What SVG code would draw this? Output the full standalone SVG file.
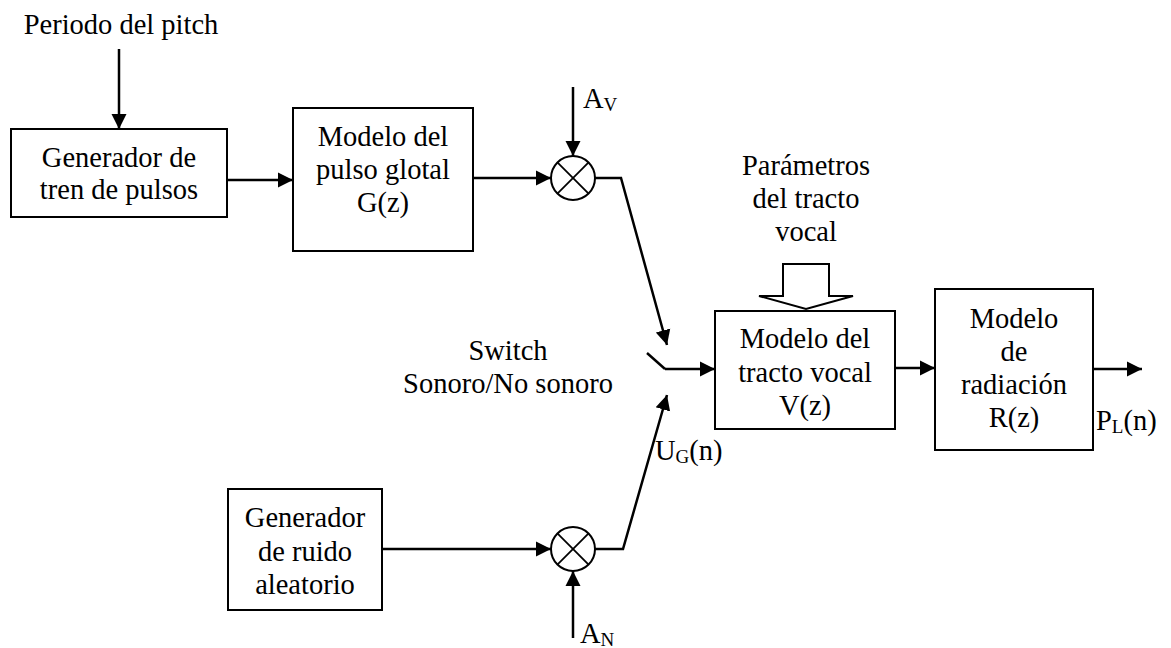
<svg xmlns="http://www.w3.org/2000/svg" width="1171" height="648" viewBox="0 0 1171 648">
<defs>
<marker id="arr" markerUnits="userSpaceOnUse" markerWidth="16" markerHeight="16" refX="15" refY="8" orient="auto">
<path d="M0,0.5 L15,8 L0,15.5 z" fill="#000"/>
</marker>
<style>
text{font-family:"Liberation Serif","Times New Roman",serif;font-size:28.5px;fill:#000;text-anchor:middle}
.l{text-anchor:start}
.sub{font-size:19px}
.box{fill:#fff;stroke:#000;stroke-width:2}
.wire{fill:none;stroke:#000;stroke-width:2.5}
.mult{fill:#fff;stroke:#000;stroke-width:2}
.x{stroke:#000;stroke-width:1.8}
</style>
</defs>
<rect width="1171" height="648" fill="#fff"/>

<g id="connectors">
<line class="wire" x1="119" y1="49" x2="119" y2="129" marker-end="url(#arr)"/>
<line class="wire" x1="227" y1="180" x2="293" y2="180" marker-end="url(#arr)"/>
<line class="wire" x1="473" y1="178" x2="551" y2="178" marker-end="url(#arr)"/>
<line class="wire" x1="573" y1="87" x2="573" y2="156" marker-end="url(#arr)"/>
<polyline class="wire" points="595,178 621,178 667,345" marker-end="url(#arr)"/>
<line class="wire" x1="382" y1="549" x2="551" y2="549" marker-end="url(#arr)"/>
<line class="wire" x1="573" y1="638" x2="573" y2="571" marker-end="url(#arr)"/>
<polyline class="wire" points="595,549 623,549 667,395" marker-end="url(#arr)"/>
<line class="wire" x1="647" y1="353" x2="665" y2="369"/>
<line class="wire" x1="665" y1="369" x2="715" y2="369" marker-end="url(#arr)"/>
<line class="wire" x1="895" y1="368" x2="935" y2="368" marker-end="url(#arr)"/>
<line class="wire" x1="1093" y1="369" x2="1142" y2="369" marker-end="url(#arr)"/>
<path d="M759,296 L783,296 L783,264 L829,264 L829,296 L853,296 L806,309 Z" fill="#fff" stroke="#000" stroke-width="2"/>
</g>

<g id="periodo"><text x="121" y="34">Periodo del pitch</text></g>

<g id="gen-pulsos">
<rect class="box" x="11" y="129" width="216" height="88"/>
<text x="119" y="167">Generador de</text>
<text x="119" y="199">tren de pulsos</text>
</g>

<g id="pulso-glotal">
<rect class="box" x="293" y="108" width="180" height="143"/>
<text x="383" y="146">Modelo del</text>
<text x="383" y="179">pulso glotal</text>
<text x="383" y="212">G(z)</text>
</g>

<g id="mult-v">
<circle class="mult" cx="573" cy="178" r="22"/>
<line class="x" x1="557.4" y1="162.4" x2="588.6" y2="193.6"/>
<line class="x" x1="588.6" y1="162.4" x2="557.4" y2="193.6"/>
<text class="l" x="583" y="108">A<tspan class="sub" dy="3">V</tspan></text>
</g>

<g id="gen-ruido">
<rect class="box" x="228" y="489" width="154" height="121"/>
<text x="305" y="527">Generador</text>
<text x="305" y="561">de ruido</text>
<text x="305" y="594">aleatorio</text>
</g>

<g id="mult-n">
<circle class="mult" cx="573" cy="549" r="22"/>
<line class="x" x1="557.4" y1="533.4" x2="588.6" y2="564.6"/>
<line class="x" x1="588.6" y1="533.4" x2="557.4" y2="564.6"/>
<text class="l" x="580" y="643">A<tspan class="sub" dy="3">N</tspan></text>
</g>

<g id="switch">
<text x="508" y="360">Switch</text>
<text x="508" y="393">Sonoro/No sonoro</text>
<text class="l" x="655" y="460">U<tspan class="sub" dy="3">G</tspan><tspan dy="-3">(n)</tspan></text>
</g>

<g id="parametros">
<text x="806" y="175">Parámetros</text>
<text x="806" y="208">del tracto</text>
<text x="806" y="241">vocal</text>
</g>

<g id="tracto-vocal">
<rect class="box" x="715" y="311" width="180" height="118"/>
<text x="805" y="348">Modelo del</text>
<text x="805" y="382">tracto vocal</text>
<text x="805" y="415">V(z)</text>
</g>

<g id="radiacion">
<rect class="box" x="935" y="289" width="158" height="161"/>
<text x="1014" y="328">Modelo</text>
<text x="1014" y="361">de</text>
<text x="1014" y="394">radiación</text>
<text x="1014" y="427">R(z)</text>
</g>

<g id="salida">
<text class="l" x="1096" y="430">P<tspan class="sub" dy="3">L</tspan><tspan dy="-3">(n)</tspan></text>
</g>
</svg>
